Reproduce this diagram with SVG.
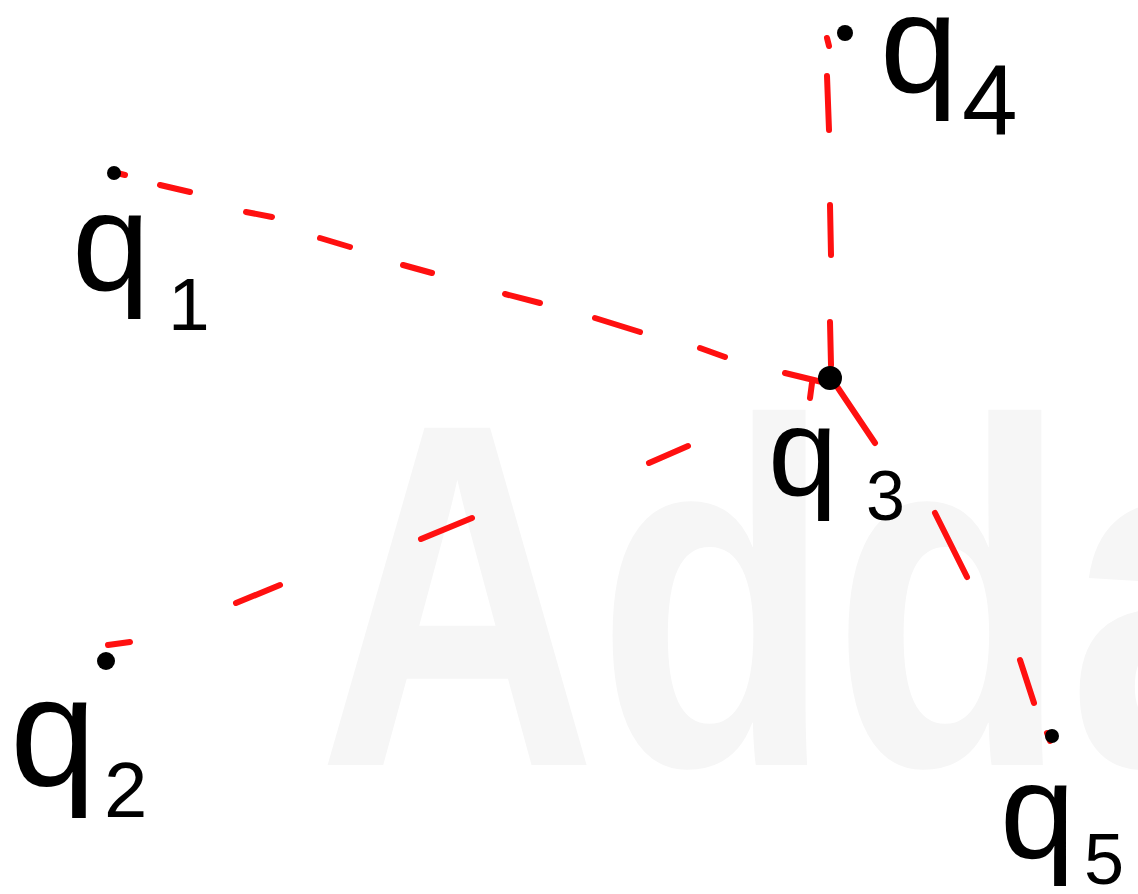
<svg xmlns="http://www.w3.org/2000/svg" width="1138" height="894" viewBox="0 0 1138 894">
<style>
.dash{stroke:#ff1010;stroke-width:6;stroke-linecap:round;fill:none}
.dot{fill:#000}
.lbl{font-family:"Liberation Sans","DejaVu Sans",sans-serif;fill:#000}
.wm{font-family:"Liberation Sans",sans-serif;font-weight:bold;fill:#f6f6f6}
</style>
<rect width="1138" height="894" fill="#fff"/>
<g id="watermark" transform="translate(318,765) scale(1,1.27)">
<text class="wm" x="0" y="0" font-size="386">Adda</text>
</g>
<g id="connectors">
<g id="c-q1-q3">
<path class="dash" d="M117,173 L125,175"/>
<path class="dash" d="M160,185 L190,192"/>
<path class="dash" d="M246,212 L272,217"/>
<path class="dash" d="M320,238 L350,247"/>
<path class="dash" d="M403,265 L432,273"/>
<path class="dash" d="M505,294 L540,303"/>
<path class="dash" d="M595,318 L640,332"/>
<path class="dash" d="M700,348 L725,357"/>
<path class="dash" d="M785,373 L822,382"/>
</g>
<g id="c-q2-q3">
<path class="dash" d="M108,645 L130,642"/>
<path class="dash" d="M236,603 L280,585"/>
<path class="dash" d="M421,539 L472,518"/>
<path class="dash" d="M649,463 L688,446"/>
<path class="dash" d="M812,383 L810,398"/>
</g>
<g id="c-q4-q3">
<path class="dash" d="M827,38 L829,46"/>
<path class="dash" d="M827,76 L829,130"/>
<path class="dash" d="M830,205 L831,255"/>
<path class="dash" d="M830,322 L831,365"/>
</g>
<g id="c-q3-q5">
<path class="dash" d="M838,388 L875,443"/>
<path class="dash" d="M935,513 L967,577"/>
<path class="dash" d="M1020,660 L1034,703"/>
<path class="dash" d="M1047,733 L1050,741"/>
</g>
</g>
<g id="q1">
<circle class="dot" cx="114" cy="173" r="7"/>
<text class="lbl" x="72" y="290" font-size="140">q</text>
<text class="lbl" x="168" y="330" font-size="75">1</text>
</g>
<g id="q2">
<circle class="dot" cx="106" cy="661" r="9"/>
<text class="lbl" x="10" y="786" font-size="155">q</text>
<text class="lbl" x="104" y="817" font-size="78">2</text>
</g>
<g id="q3">
<circle class="dot" cx="830" cy="378" r="12"/>
<text class="lbl" x="768" y="495" font-size="125">q</text>
<text class="lbl" x="866" y="520" font-size="70">3</text>
</g>
<g id="q4">
<circle class="dot" cx="845" cy="33" r="8"/>
<text class="lbl" x="880" y="92" font-size="140">q</text>
<text class="lbl" x="962" y="135" font-size="100">4</text>
</g>
<g id="q5">
<circle class="dot" cx="1052" cy="736" r="7"/>
<text class="lbl" x="1000" y="858" font-size="135">q</text>
<text class="lbl" x="1084" y="884" font-size="72">5</text>
</g>
</svg>
